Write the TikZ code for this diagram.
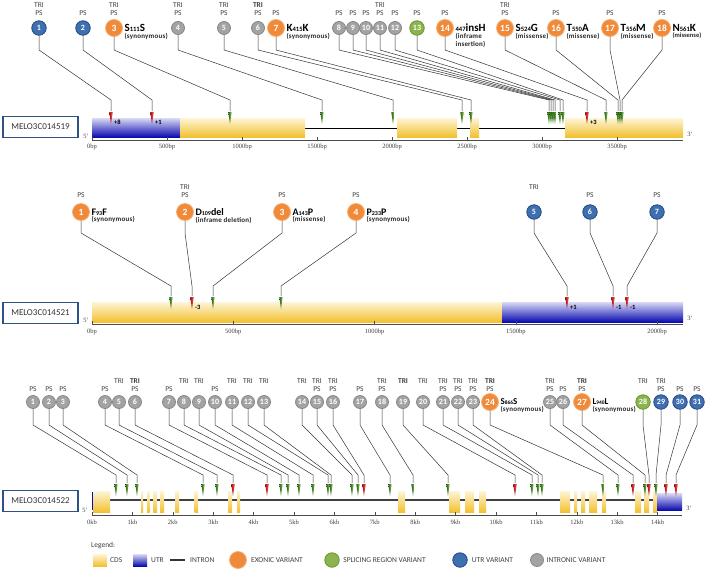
\documentclass[tikz,border=0pt]{standalone}
\usepackage{fontspec}
\setmainfont{Liberation Serif}
\setsansfont{Carlito}
\usetikzlibrary{positioning}

\definecolor{cdsTop}{HTML}{FDF5D6}
\definecolor{cdsBot}{HTML}{F2C030}
\definecolor{utrTop}{HTML}{DADAF6}
\definecolor{utrBot}{HTML}{0B0BB0}
\definecolor{varOrange}{HTML}{F08A3B}
\definecolor{varOrangeL}{HTML}{F6AE70}
\definecolor{varBlue}{HTML}{3E6FB0}
\definecolor{varBlueD}{HTML}{27497E}
\definecolor{varGray}{HTML}{A3A3A3}
\definecolor{varGrayD}{HTML}{878787}
\definecolor{varGreen}{HTML}{8BB54C}
\definecolor{varGreenD}{HTML}{6A9436}
\definecolor{snpDark}{HTML}{246410}
\definecolor{snpLight}{HTML}{9CCB6A}
\definecolor{indelDark}{HTML}{A80E0E}
\definecolor{indelLight}{HTML}{F06A6A}
\definecolor{boxBlue}{HTML}{2E5286}

\newcommand{\vsub}[1]{\scalebox{0.6}{#1}}

\tikzset{
  vbase/.style={circle, draw, line width=0.8pt, inner sep=0pt, text=white,
    font=\sffamily\bfseries\fontsize{8}{8}\selectfont},
  vint/.style={vbase, fill=varGray, draw=varGrayD, minimum size=13pt},
  vexo/.style={vbase, fill=varOrange, draw=varOrangeL, minimum size=17pt,
    font=\sffamily\bfseries\fontsize{9.5}{9.5}\selectfont},
  vutr/.style={vbase, fill=varBlue, draw=varBlueD, minimum size=14.5pt},
  vspl/.style={vbase, fill=varGreen, draw=varGreenD, minimum size=14.5pt},
  tag/.style={font=\sffamily\fontsize{7.5}{8}\selectfont, text=black!75, inner sep=0pt},
  tagb/.style={tag, font=\sffamily\bfseries\fontsize{7.5}{8}\selectfont},
  vname/.style={font=\sffamily\bfseries\fontsize{11}{11}\selectfont, inner sep=0.5pt},
  vnote/.style={font=\sffamily\bfseries\fontsize{7}{8}\selectfont\addfontfeature{LetterSpace=3},
    text=black!85, inner sep=0.5pt, align=left},
  offlab/.style={font=\sffamily\bfseries\fontsize{6.5}{7}\selectfont, inner sep=0pt, anchor=west},
  leader/.style={draw=black!80, line width=0.5pt},
  genebox/.style={draw=boxBlue, line width=1.2pt, fill=white, minimum width=75pt,
    minimum height=21pt, font=\sffamily\fontsize{9}{10}\selectfont, text=black!80},
  cdsfill/.style={top color=cdsTop, bottom color=cdsBot},
  utrfill/.style={top color=utrTop, bottom color=utrBot},
  axis/.style={draw=black!70, line width=0.6pt},
  ticklab/.style={font=\fontsize{6.5}{7}\selectfont, text=black!75, inner sep=0pt},
  endlab/.style={font=\fontsize{6.5}{7}\selectfont, text=black!75, inner sep=0pt},
  legtext/.style={font=\sffamily\fontsize{7.5}{8}\selectfont, text=black!75, inner sep=0pt},
  pics/mkg/.style={code={\shade[left color=snpDark, right color=snpLight]
    (-1.7,0) -- (1.7,0) -- (0,12) -- cycle;}},
  pics/mkr/.style={code={\shade[left color=indelDark, right color=indelLight]
    (-1.8,0) -- (1.8,0) -- (0,12) -- cycle;}}
}

\begin{document}
\begin{tikzpicture}[x=1pt, y=-1pt, >=stealth]
  \useasboundingbox (0,0) rectangle (708,571);

  % --- Gene MELO3C014519 ---
  \node[genebox] (g519) at (40.5,127) {MELO3C014519};
  \draw[black, line width=1pt] (180,128) -- (683,128);
  \shade[utrfill] (92,118) rectangle (180,137);
  \foreach \xa/\xb in {180/305, 397/457, 470/479, 565/683}
    \shade[cdsfill] (\xa,118) rectangle (\xb,137);
  \node[endlab] (e5a) at (86,136) {5'};
  \node[endlab] (e3a) at (690,134) {3'};
  \draw[axis] (92,140) -- (683,140);
  \foreach \k in {0,...,7} {
    \pgfmathtruncatemacro{\bp}{500*\k}
    \draw[axis] (92+75*\k,140) -- (92+75*\k,137);
    \node[ticklab] (ka\k) at (92+75*\k,147) {\bp bp};
  }

  % --- Variants of MELO3C014519 ---
  % tag code: 0 = PS, 1 = TRI, 2 = TRI+PS, 3 = bold TRI+PS, 4 = bold TRI
  \foreach \n/\cx/\st/\tg/\mx/\mc in {1/39/vutr/2/111/r, 2/83/vutr/0/152/r,
      3/114/vexo/2/230/g, 4/178/vint/2/322/g, 5/224/vint/2/393/g,
      6/258/vint/3/462/g, 7/276/vexo/0/471/g, 8/339/vint/0/549/g,
      9/353/vint/0/551/g, 10/366/vint/0/553/g, 11/380/vint/2/555/g,
      12/395/vint/0/560/g, 13/417/vspl/0/563/g, 14/445/vexo/0/587/r,
      15/505/vexo/2/606/g, 16/556/vexo/0/618/g, 17/610/vexo/0/620/g,
      18/662/vexo/0/622/g} {
    \node[\st] (a\n) at (\cx,28) {\n};
    \ifcase\tg
      \node[tag] (pa\n) at (\cx,13) {PS};
    \or
      \node[tag] (ta\n) at (\cx,5) {TRI};
    \or
      \node[tag] (ta\n) at (\cx,5) {TRI};
      \node[tag] (pa\n) at (\cx,13) {PS};
    \or
      \node[tagb] (ta\n) at (\cx,5) {TRI};
      \node[tag] (pa\n) at (\cx,13) {PS};
    \fi
    \coordinate (ma\n) at (\mx,111);
    \pic at (\mx,112) {mk\mc};
    \draw[leader] (a\n.south) -- (a\n.south |- 0,50) -- (ma\n |- 0,100) -- (ma\n);
  }
  \node[offlab] (oa1) at (114,122) {+8};
  \node[offlab] (oa2) at (155,122) {+1};
  \node[offlab] (oa14) at (590,122) {+3};

  \node[vname, right=1pt of a3] (na3) {S\vsub{111}S};
  \node[vnote, anchor=north west] (da3) at (na3.south west) {(synonymous)};
  \node[vname, right=1pt of a7] (na7) {K\vsub{415}K};
  \node[vnote, anchor=north west] (da7) at (na7.south west) {(synonymous)};
  \node[vname, right=1pt of a14] (na14) {\vsub{447}insH};
  \node[vnote, anchor=north west] (da14) at (na14.south west) {(inframe\\insertion)};
  \node[vname, right=1pt of a15] (na15) {S\vsub{524}G};
  \node[vnote, anchor=north west] (da15) at (na15.south west) {(missense)};
  \node[vname, right=1pt of a16] (na16) {T\vsub{550}A};
  \node[vnote, anchor=north west] (da16) at (na16.south west) {(missense)};
  \node[vname, right=1pt of a17] (na17) {T\vsub{556}M};
  \node[vnote, anchor=north west] (da17) at (na17.south west) {(missense)};
  \node[vname, right=1pt of a18] (na18) {N\vsub{561}K};
  \node[vnote, anchor=north west, font=\sffamily\bfseries\fontsize{6.5}{7.5}\selectfont] (da18) at (na18.south west) {(missense)};

  % --- Gene MELO3C014521 ---
  \node[genebox] (g521) at (40.5,313) {MELO3C014521};
  \shade[cdsfill] (92,302) rectangle (502,322);
  \shade[utrfill] (502,302) rectangle (683,322);
  \node[endlab] (e5b) at (86,320) {5'};
  \node[endlab] (e3b) at (690,318) {3'};
  \draw[axis] (92,324) -- (683,324);
  \foreach \k in {0,...,4} {
    \pgfmathtruncatemacro{\bp}{500*\k}
    \draw[axis] (92+141.3*\k,324) -- (92+141.3*\k,321);
    \node[ticklab] (kb\k) at (92+141.3*\k,332) {\bp bp};
  }

  % --- Variants of MELO3C014521 ---
  \foreach \n/\cx/\st/\tg/\mx/\mc in {1/81/vexo/0/171/g, 2/185/vexo/2/192/r,
      3/282/vexo/0/213/g, 4/356/vexo/0/281/g, 5/534/vutr/1/567/r,
      6/590/vutr/0/613/r, 7/657/vutr/0/627/r} {
    \node[\st] (b\n) at (\cx,212) {\n};
    \ifcase\tg
      \node[tag] (pb\n) at (\cx,195) {PS};
    \or
      \node[tag] (tb\n) at (\cx,187) {TRI};
    \or
      \node[tag] (tb\n) at (\cx,187) {TRI};
      \node[tag] (pb\n) at (\cx,195) {PS};
    \fi
    \coordinate (mb\n) at (\mx,296);
    \pic at (\mx,297) {mk\mc};
    \draw[leader] (b\n.south) -- (b\n.south |- 0,233) -- (mb\n |- 0,286) -- (mb\n);
  }
  \node[offlab] (ob2) at (195,307) {-3};
  \node[offlab] (ob5) at (570,307) {+1};
  \node[offlab] (ob6) at (616,307) {-1};
  \node[offlab] (ob7) at (630,307) {-1};

  \node[vname, font=\sffamily\bfseries\fontsize{10}{10}\selectfont, right=1pt of b1] (nb1) {F\vsub{93}F};
  \node[vnote, anchor=north west] (db1) at (nb1.south west) {(synonymous)};
  \node[vname, font=\sffamily\bfseries\fontsize{10}{10}\selectfont, right=1pt of b2] (nb2) {D\vsub{109}del};
  \node[vnote, anchor=north west] (db2) at (nb2.south west) {(inframe deletion)};
  \node[vname, font=\sffamily\bfseries\fontsize{10}{10}\selectfont, right=1pt of b3] (nb3) {A\vsub{143}P};
  \node[vnote, anchor=north west] (db3) at (nb3.south west) {(missense)};
  \node[vname, font=\sffamily\bfseries\fontsize{10}{10}\selectfont, right=1pt of b4] (nb4) {P\vsub{233}P};
  \node[vnote, anchor=north west] (db4) at (nb4.south west) {(synonymous)};

  % --- Gene MELO3C014522 ---
  \node[genebox] (g522) at (40.5,501) {MELO3C014522};
  \draw[black!75, line width=2pt] (110,500) -- (657,500);
  \fill[utrBot] (91.5,492) rectangle (93,510);
  \shade[cdsfill] (93,491) rectangle (110,512);
  \foreach \xa/\xb in {141/143, 147/149.5, 153/157, 160/164, 175/179, 194.5/198,
      228/232, 237/240, 398/405, 449/460, 465/474, 479/486, 560/570, 574/577,
      581/585, 589/597, 602/606, 635/641, 644/649, 653/657}
    \shade[cdsfill] (\xa,491) rectangle (\xb,512);
  \shade[utrfill] (657,493) rectangle (682,510);
  \node[endlab] (e5c) at (85,510) {5'};
  \node[endlab] (e3c) at (689,508) {3'};
  \draw[axis] (92,515) -- (682,515);
  \foreach \k in {0,...,14} {
    \draw[axis] (92+40.4*\k,515) -- (92+40.4*\k,512);
    \node[ticklab] (kc\k) at (92+40.4*\k,522) {\k kb};
  }

  % --- Variants of MELO3C014522 ---
  \foreach \n/\cx/\st/\tg/\mx/\mc in {1/33/vint/0/116/g, 2/49/vint/0/127/g,
      3/63/vint/0/137/g, 4/105/vint/0/203/g, 5/119/vint/1/217/g,
      6/135/vint/3/233/r, 7/169/vint/0/267/r, 8/184/vint/1/281/g,
      9/199/vint/1/288/g, 10/215/vint/0/299/g, 11/232/vint/1/313/g,
      12/248/vint/1/328/g, 13/264/vint/1/331/g, 14/302/vint/1/352/g,
      15/317/vint/2/358/g, 16/333/vint/2/364/r, 17/360/vint/0/390/g,
      18/382/vint/2/413/g, 19/403/vint/4/448/g, 20/423/vint/1/515/r,
      21/443/vint/2/532/g, 22/458/vint/2/538/g, 23/473/vint/2/542/g,
      24/490/vexo/3/603/g, 25/550/vint/2/618/g, 26/563/vint/0/633/r,
      27/582/vexo/3/645/g, 28/643/vspl/1/649/r, 29/661/vutr/2/656/g,
      30/680/vutr/0/666/r, 31/697/vutr/0/676/r} {
    \node[\st] (c\n) at (\cx,402) {\n};
    \ifcase\tg
      \node[tag] (pc\n) at (\cx,389) {PS};
    \or
      \node[tag] (tc\n) at (\cx,381) {TRI};
    \or
      \node[tag] (tc\n) at (\cx,381) {TRI};
      \node[tag] (pc\n) at (\cx,389) {PS};
    \or
      \node[tagb] (tc\n) at (\cx,381) {TRI};
      \node[tag] (pc\n) at (\cx,389) {PS};
    \or
      \node[tagb] (tc\n) at (\cx,381) {TRI};
    \fi
    \coordinate (mc\n) at (\mx,483);
    \pic at (\mx,484) {mk\mc};
    \draw[leader] (c\n.south) -- (c\n.south |- 0,425) -- (mc\n |- 0,475) -- (mc\n);
  }
  \node[vname, font=\sffamily\bfseries\fontsize{9}{9}\selectfont, right=1pt of c24] (nc24) {S\vsub{866}S};
  \node[vnote, anchor=north west] (dc24) at (nc24.south west) {(synonymous)};
  \node[vname, font=\sffamily\bfseries\fontsize{9}{9}\selectfont, right=1pt of c27] (nc27) {L\vsub{940}L};
  \node[vnote, anchor=north west] (dc27) at (nc27.south west) {(synonymous)};

  % --- Legend ---
  \node[legtext, anchor=west] (leg) at (91,546) {Legend:};
  \shade[cdsfill] (93,554) rectangle (107,566);
  \node[legtext, anchor=west] (lcds) at (110,560) {CDS};
  \shade[utrfill] (133,554) rectangle (147,566);
  \node[legtext, anchor=west] (lutr) at (151,560) {UTR};
  \draw[black!80, line width=1.5pt] (170,560) -- (185,560);
  \node[legtext, anchor=west] (lint) at (190,560) {INTRON};
  \node[vexo] (lvexo) at (238,560) {};
  \node[legtext, right=4pt of lvexo] (lexotxt) {EXONIC VARIANT};
  \node[vspl] (lvspl) at (332,560) {};
  \node[legtext, right=3.5pt of lvspl] (lspltxt) {SPLICING REGION VARIANT};
  \node[vutr] (lvutr) at (460,560) {};
  \node[legtext, right=4pt of lvutr] (lutrtxt) {UTR VARIANT};
  \node[vint] (lvint) at (537,560) {};
  \node[legtext, right=2.5pt of lvint] (linttxt) {INTRONIC VARIANT};
\end{tikzpicture}
\end{document}
